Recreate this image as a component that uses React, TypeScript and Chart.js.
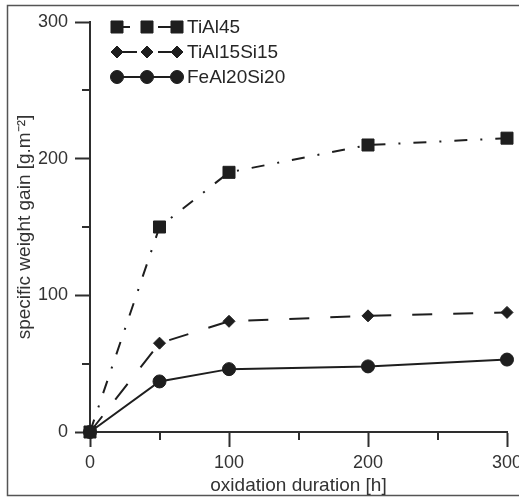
import React, { useEffect, useRef } from 'react';
import { Chart, registerables } from 'chart.js';

Chart.register(...registerables);

// ---- data ----
const durations = [0, 50, 100, 200, 300];
const tiAl45 = [0, 150, 190, 210, 215];
const tiAl15Si15 = [0, 65, 81, 85, 87.5];
const feAl20Si20 = [0, 37, 46, 48, 53];
const seriesNames = ['TiAl45', 'TiAl15Si15', 'FeAl20Si20'];
const majorTicks = [0, 100, 200, 300];
const minorTicks = [50, 150, 250];
const xTitle = 'oxidation duration [h]';
const yTitle = 'specific weight gain [g.m\u207B\u00B2]';

const INK = '#1e1e1e';
const AXIS = '#2e2e2e';
const FONT = "'Liberation Sans', Arial, Helvetica, sans-serif";
const FS = 18;
const FS_T = 19;

const toPoints = (ys: number[]) => durations.map((x, i) => ({ x, y: ys[i] }));

function drawMarker(ctx: CanvasRenderingContext2D, style: string, x: number, y: number, r: number) {
  ctx.beginPath();
  if (style === 'rect') {
    const s = Math.SQRT1_2 * r;
    ctx.rect(x - s, y - s, 2 * s, 2 * s);
  } else if (style === 'rectRot') {
    ctx.moveTo(x - r, y);
    ctx.lineTo(x, y - r);
    ctx.lineTo(x + r, y);
    ctx.lineTo(x, y + r);
    ctx.closePath();
  } else {
    ctx.arc(x, y, r, 0, Math.PI * 2);
  }
  ctx.fill();
  ctx.stroke();
}

const framePlugin = {
  id: 'frame',
  beforeDraw(chart: any) {
    const ctx = chart.ctx as CanvasRenderingContext2D;
    ctx.save();
    ctx.fillStyle = '#ffffff';
    ctx.fillRect(0, 0, chart.width, chart.height);
    ctx.strokeStyle = '#555555';
    ctx.lineWidth = 1.5;
    ctx.beginPath();
    ctx.moveTo(chart.width + 5, 5.5);
    ctx.lineTo(7.5, 5.5);
    ctx.lineTo(7.5, 495.5);
    ctx.lineTo(chart.width + 5, 495.5);
    ctx.stroke();
    ctx.restore();
  },
};

const minorTickPlugin = {
  id: 'minorTicks',
  afterDraw(chart: any) {
    const ctx = chart.ctx as CanvasRenderingContext2D;
    const xs = chart.scales.x;
    const ys = chart.scales.y;
    const area = chart.chartArea;
    ctx.save();
    ctx.strokeStyle = AXIS;
    ctx.lineWidth = 2;
    ctx.beginPath();
    minorTicks.forEach((v) => {
      const px = Math.round(xs.getPixelForValue(v));
      ctx.moveTo(px, area.bottom);
      ctx.lineTo(px, area.bottom + 8);
      const py = Math.round(ys.getPixelForValue(v));
      ctx.moveTo(area.left - 8, py);
      ctx.lineTo(area.left, py);
    });
    ctx.stroke();
    ctx.restore();
  },
};

const legendPlugin = {
  id: 'customLegend',
  afterDraw(chart: any) {
    const ctx = chart.ctx as CanvasRenderingContext2D;
    const x0 = 117;
    const x1 = 147;
    const x2 = 177;
    const rows = [27, 52, 77];
    ctx.save();
    chart.data.datasets.forEach((ds: any, i: number) => {
      const y = rows[i];
      ctx.strokeStyle = ds.borderColor;
      ctx.lineWidth = ds.borderWidth;
      ctx.setLineDash(ds.borderDash || []);
      ctx.beginPath();
      ctx.moveTo(x0, y);
      ctx.lineTo(x2, y);
      ctx.stroke();
      ctx.setLineDash([]);
      ctx.fillStyle = ds.pointBackgroundColor;
      ctx.strokeStyle = ds.pointBorderColor;
      ctx.lineWidth = ds.pointBorderWidth;
      [x0, x1, x2].forEach((mx) => drawMarker(ctx, ds.pointStyle, mx, y, ds.pointRadius));
      ctx.fillStyle = '#262626';
      ctx.font = `${FS_T}px ${FONT}`;
      ctx.textAlign = 'left';
      ctx.textBaseline = 'middle';
      ctx.fillText(ds.label, 187, y + 1);
    });
    ctx.restore();
  },
};

export default function App() {
  const ref = useRef<HTMLCanvasElement | null>(null);

  useEffect(() => {
    if (!ref.current) return;
    const common = {
      borderColor: INK,
      borderWidth: 2,
      pointBackgroundColor: INK,
      pointBorderColor: INK,
      pointBorderWidth: 1,
      tension: 0,
      clip: false as any,
      fill: false,
    };
    const tickColor = (c: any) => (majorTicks.includes(c.tick?.value) ? AXIS : 'rgba(0,0,0,0)');
    const tickLabel = (v: any) => (majorTicks.includes(Number(v)) ? String(v) : '');
    const chart = new Chart(ref.current, {
      type: 'line',
      data: {
        datasets: [
          {
            ...common,
            label: seriesNames[0],
            data: toPoints(tiAl45),
            borderDash: [13, 13, 2, 13],
            pointStyle: 'rect',
            pointRadius: 8.5,
          },
          {
            ...common,
            label: seriesNames[1],
            data: toPoints(tiAl15Si15),
            borderDash: [20, 21],
            pointStyle: 'rectRot',
            pointRadius: 6,
          },
          {
            ...common,
            label: seriesNames[2],
            data: toPoints(feAl20Si20),
            pointStyle: 'circle',
            pointRadius: 6.5,
          },
        ] as any,
      },
      options: {
        animation: false,
        responsive: false,
        devicePixelRatio: 1,
        layout: { padding: { left: 0, top: 22, right: 12, bottom: 0 } },
        plugins: {
          legend: { display: false },
          tooltip: { enabled: false },
        },
        events: [],
        scales: {
          x: {
            type: 'linear',
            min: 0,
            max: 300,
            ticks: {
              stepSize: 50,
              autoSkip: false,
              maxRotation: 0,
              callback: tickLabel,
              color: '#333',
              padding: 5,
              font: { family: FONT, size: FS },
            },
            grid: {
              drawOnChartArea: false,
              tickLength: 15,
              tickWidth: 2,
              tickColor,
            },
            border: { color: AXIS, width: 2 },
            title: {
              display: true,
              text: xTitle,
              color: '#333',
              font: { family: FONT, size: FS_T },
              padding: { top: 0, bottom: 0 },
            },
            afterFit: (s: any) => {
              s.height = 65;
              s.paddingLeft = 0;
              s.paddingRight = 0;
            },
          },
          y: {
            type: 'linear',
            min: 0,
            max: 300,
            ticks: {
              stepSize: 50,
              autoSkip: false,
              callback: tickLabel,
              color: '#333',
              padding: 7,
              font: { family: FONT, size: FS },
            },
            grid: {
              drawOnChartArea: false,
              tickLength: 15,
              tickWidth: 2,
              tickColor,
            },
            border: { color: AXIS, width: 2 },
            title: {
              display: true,
              text: yTitle,
              color: '#333',
              font: { family: FONT, size: FS_T },
              padding: { top: 13, bottom: 0 },
            },
            afterFit: (s: any) => {
              s.width = 90;
              s.paddingTop = 0;
              s.paddingBottom = 0;
            },
          },
        },
      } as any,
      plugins: [framePlugin, minorTickPlugin, legendPlugin],
    });
    return () => chart.destroy();
  }, []);

  return (
    <div style={{ position: 'fixed', left: 0, top: 0, width: 519, height: 497, background: '#fff' }}>
      <canvas ref={ref} width={519} height={497} style={{ display: 'block', width: 519, height: 497 }} />
    </div>
  );
}
